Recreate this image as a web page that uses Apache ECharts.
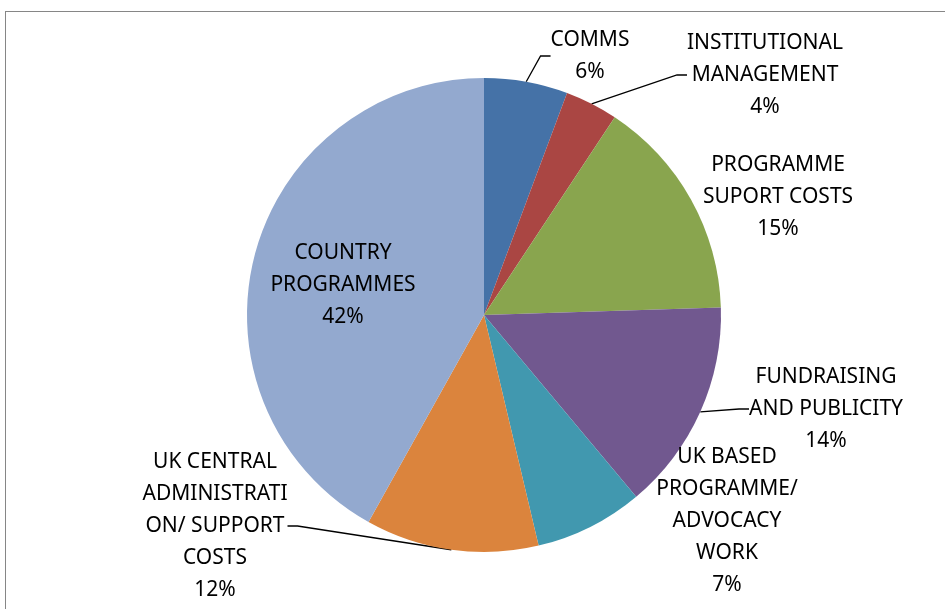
<!DOCTYPE html>
<html>
<head>
<meta charset="utf-8">
<script src="https://cdn.jsdelivr.net/npm/echarts@6/dist/echarts.min.js"></script>
<style>
  html, body { margin: 0; padding: 0; background: #fff; overflow: hidden; }
  #frame { position: absolute; left: 5px; top: 11px; width: 980px; height: 700px; border: 1px solid #868686; }
  #chart { position: absolute; left: 0; top: 0; width: 945px; height: 609px; }
</style>
</head>
<body>
<div id="frame"></div>
<div id="chart"></div>
<script>
// slice names (clockwise from 12 o'clock) and shares
let names = ['COMMS', 'INSTITUTIONAL\nMANAGEMENT', 'PROGRAMME\nSUPORT COSTS', 'FUNDRAISING\nAND PUBLICITY',
    'UK BASED\nPROGRAMME/\nADVOCACY\nWORK', 'UK CENTRAL\nADMINISTRATI\nON/ SUPPORT\nCOSTS', 'COUNTRY\nPROGRAMMES'];
let shares = [5.7, 3.6, 15.2, 14.4, 7.4, 11.8, 41.9];
let pctLabels = ['6%', '4%', '15%', '14%', '7%', '12%', '42%'];
let colors = ['#4572A7', '#AA4643', '#89A54E', '#71588F', '#4198AF', '#DB843D', '#93A9CF'];
let hasLine = [true, true, false, true, false, true, false];

// label centres (x, y) in pixels
let labelPos = [[590, 56], [765, 75], [778, 197], [826, 409], [727, 521], [215, 526], [343, 285]];

let chart = echarts.init(document.getElementById('chart'));

let data = [];
shares.forEach((v, i) => {
    data.push({
        name: names[i],
        value: v,
        itemStyle: { color: colors[i] },
        labelLine: { show: hasLine[i] }
    });
});

let option = {
    animation: false,
    series: [{
        type: 'pie',
        center: [484, 315],
        radius: 237,
        startAngle: 90,
        clockwise: true,
        data: data,
        itemStyle: { borderWidth: 0 },
        label: {
            show: true,
            position: 'outside',
            formatter: (p) => p.name + '\n' + pctLabels[p.dataIndex],
            fontFamily: 'Noto Sans',
            fontSize: 21,
            lineHeight: 32,
            color: '#000',
            align: 'center'
        },
        labelLine: {
            show: true,
            length: 10,
            length2: 10,
            lineStyle: { color: '#000', width: 1.3 }
        },
        labelLayout: (params) => {
            let p = labelPos[params.dataIndex];
            return { x: p[0], y: p[1], align: 'center', verticalAlign: 'middle' };
        },
        emphasis: { disabled: true }
    }]
};

chart.setOption(option);
</script>
</body>
</html>
